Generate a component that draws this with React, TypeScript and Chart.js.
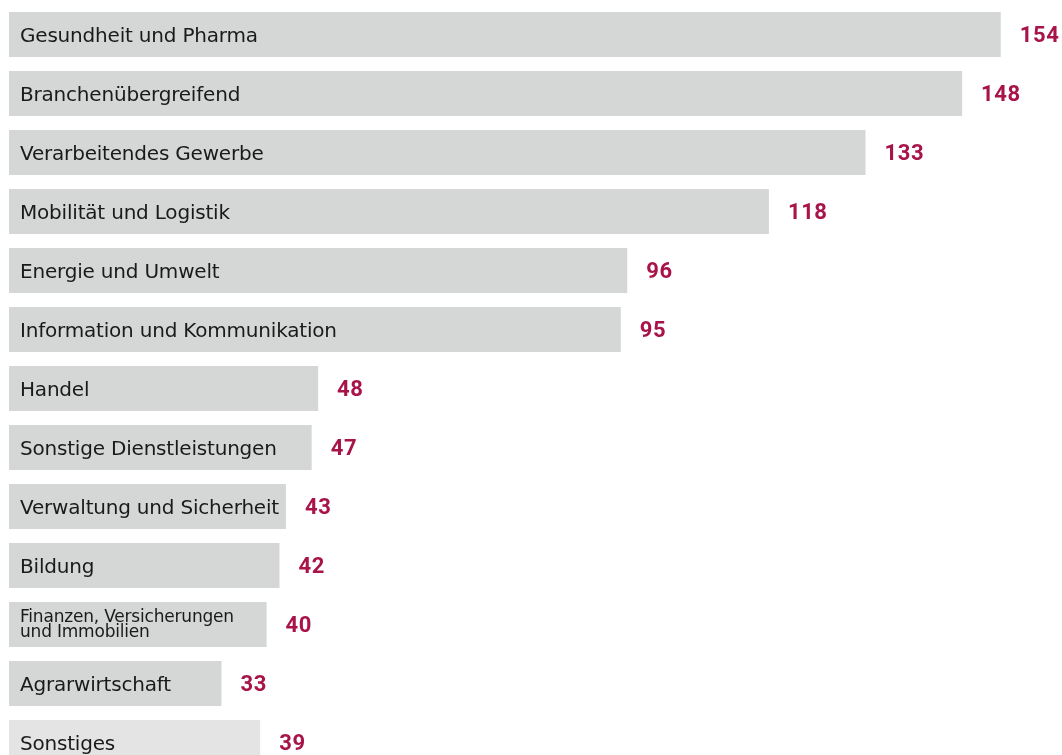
import React, { useEffect, useRef } from "react";
import { Chart, registerables } from "chart.js";

Chart.register(...registerables);

const categories: (string | string[])[] = [
  "Gesundheit und Pharma",
  "Branchenübergreifend",
  "Verarbeitendes Gewerbe",
  "Mobilität und Logistik",
  "Energie und Umwelt",
  "Information und Kommunikation",
  "Handel",
  "Sonstige Dienstleistungen",
  "Verwaltung und Sicherheit",
  "Bildung",
  ["Finanzen, Versicherungen", "und Immobilien"],
  "Agrarwirtschaft",
  "Sonstiges",
];
const values: number[] = [154, 148, 133, 118, 96, 95, 48, 47, 43, 42, 40, 33, 39];
const barColors: string[] = [
  "#d5d6d6", "#d5d6d6", "#d5d6d6", "#d5d6d6", "#d5d6d6", "#d5d6d6", "#d5d6d6",
  "#d5d6d6", "#d5d6d6", "#d5d6d6", "#d5d6d6", "#d5d6d6", "#e4e4e4",
];

const W = 1062;
const H = 780;
const XMAX = 160;
const SCALE = 6.44;

const labelPlugin = {
  id: "barLabels",
  afterDatasetsDraw(chart: any) {
    const ctx = chart.ctx;
    const meta = chart.getDatasetMeta(0);
    ctx.save();
    meta.data.forEach((bar: any, i: number) => {
      const lab = categories[i];
      const left = bar.base;
      ctx.fillStyle = "#1a1a1a";
      ctx.textAlign = "left";
      ctx.textBaseline = "alphabetic";
      if (Array.isArray(lab)) {
        ctx.font = "17px 'DejaVu Sans'";
        (ctx as any).letterSpacing = "-0.2px";
        ctx.fillText(lab[0], left + 11, bar.y - 3);
        ctx.fillText(lab[1], left + 11, bar.y + 12);
      } else {
        ctx.font = "20px 'DejaVu Sans'";
        (ctx as any).letterSpacing = "-0.2px";
        ctx.fillText(lab, left + 11, bar.y + 7.5);
      }
      ctx.fillStyle = "#a8144a";
      ctx.font = "bold 22px Roboto";
      (ctx as any).letterSpacing = "0.6px";
      ctx.fillText(String(values[i]), bar.x + 19, bar.y + 7.5);
    });
    ctx.restore();
  },
};

export default function App() {
  const ref = useRef<HTMLCanvasElement>(null);
  useEffect(() => {
    document.body.style.margin = "0";
    const chart = new Chart(ref.current!, {
      type: "bar",
      data: {
        labels: categories as any,
        datasets: [
          {
            data: values,
            backgroundColor: barColors,
            barPercentage: 1,
            categoryPercentage: 45 / 59,
          },
        ],
      },
      options: {
        indexAxis: "y",
        animation: false,
        responsive: false,
        layout: {
          padding: { left: 9, top: 5, right: W - 9 - XMAX * SCALE, bottom: H - 5 - 13 * 59 },
        },
        scales: {
          x: { display: false, min: 0, max: XMAX, grid: { display: false } },
          y: { display: false, grid: { display: false } },
        },
        plugins: { legend: { display: false }, tooltip: { enabled: false } },
      },
      plugins: [labelPlugin],
    });
    return () => chart.destroy();
  }, []);
  return (
    <div style={{ position: "fixed", left: 0, top: 0, width: W, height: 755, overflow: "hidden", background: "#fff" }}>
      <canvas ref={ref} width={W} height={H} style={{ display: "block" }} />
    </div>
  );
}
